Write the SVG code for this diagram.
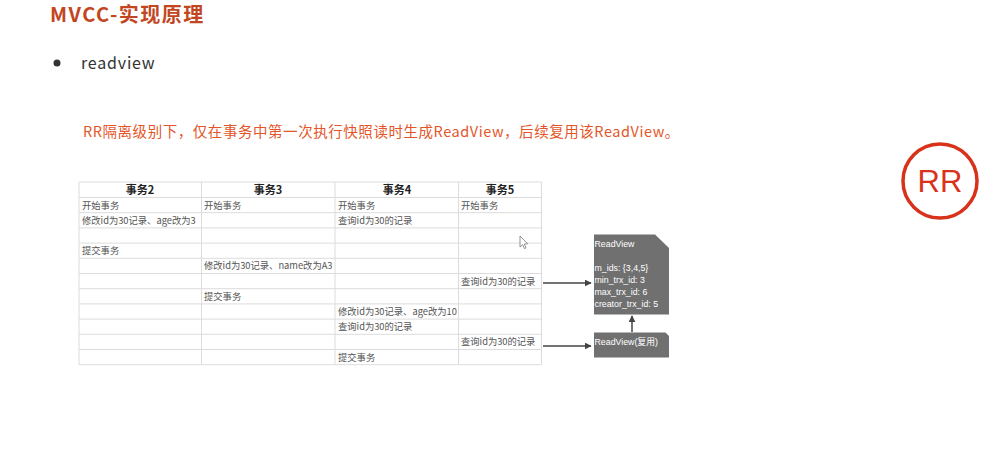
<svg xmlns="http://www.w3.org/2000/svg" width="1006" height="450" viewBox="0 0 1006 450">
  <style>
    .cjk { font-family: "Noto Sans CJK SC", "Noto Sans", sans-serif; }
    .title { font-size: 20px; font-weight: bold; fill: #c2461f; letter-spacing: 1.5px; }
    .bullet-text { font-size: 16px; fill: #333333; letter-spacing: 0.8px; }
    .note { font-size: 14.5px; fill: #e4562a; letter-spacing: 0.55px; }
    .hdr { font-size: 11px; font-weight: bold; fill: #222222; text-anchor: middle; }
    .cell { font-size: 9.3px; fill: #555555; }
    .grid line { stroke: #dcdcdc; stroke-width: 1; }
    .rv { fill: #707070; }
    .rvt { font-family: "Liberation Sans", "Noto Sans CJK SC", sans-serif; font-size: 8.8px; fill: #ffffff; }
    .conn { stroke: #444444; stroke-width: 1.5; fill: none; marker-end: url(#arrow); }
  </style>
  <defs>
    <marker id="arrow" viewBox="0 0 10 10" refX="9" refY="5" markerWidth="7" markerHeight="7" orient="auto" markerUnits="userSpaceOnUse">
      <path d="M0,0 L10,5 L0,10 z" fill="#444444"/>
    </marker>
  </defs>

  <rect width="1006" height="450" fill="#ffffff"/>

  <!-- heading -->
  <text class="cjk title" x="50" y="22">MVCC-实现原理</text>
  <circle cx="57" cy="63" r="3.5" fill="#333333"/>
  <text class="cjk bullet-text" x="81" y="69">readview</text>
  <text class="cjk note" x="83" y="137">RR隔离级别下，仅在事务中第一次执行快照读时生成ReadView，后续复用该ReadView。</text>

  <!-- transaction table -->
  <g id="table">
    <g class="grid">
      <line x1="79" y1="182" x2="541.5" y2="182"/>
      <line x1="79" y1="197.5" x2="541.5" y2="197.5"/>
      <line x1="79" y1="212.7" x2="541.5" y2="212.7"/>
      <line x1="79" y1="227.9" x2="541.5" y2="227.9"/>
      <line x1="79" y1="243.1" x2="541.5" y2="243.1"/>
      <line x1="79" y1="258.3" x2="541.5" y2="258.3"/>
      <line x1="79" y1="273.5" x2="541.5" y2="273.5"/>
      <line x1="79" y1="288.7" x2="541.5" y2="288.7"/>
      <line x1="79" y1="303.9" x2="541.5" y2="303.9"/>
      <line x1="79" y1="319.1" x2="541.5" y2="319.1"/>
      <line x1="79" y1="334.3" x2="541.5" y2="334.3"/>
      <line x1="79" y1="349.5" x2="541.5" y2="349.5"/>
      <line x1="79" y1="364.7" x2="541.5" y2="364.7"/>
      <line x1="79" y1="182" x2="79" y2="364.7"/>
      <line x1="201.5" y1="182" x2="201.5" y2="364.7"/>
      <line x1="335" y1="182" x2="335" y2="364.7"/>
      <line x1="458.5" y1="182" x2="458.5" y2="364.7"/>
      <line x1="541.5" y1="182" x2="541.5" y2="364.7"/>
    </g>
    <text class="cjk hdr" x="140" y="194">事务2</text>
    <text class="cjk hdr" x="268" y="194">事务3</text>
    <text class="cjk hdr" x="397" y="194">事务4</text>
    <text class="cjk hdr" x="500" y="194">事务5</text>

    <text class="cjk cell" x="82" y="208.5">开始事务</text>
    <text class="cjk cell" x="204" y="208.5">开始事务</text>
    <text class="cjk cell" x="338" y="208.5">开始事务</text>
    <text class="cjk cell" x="461" y="208.5">开始事务</text>

    <text class="cjk cell" x="82" y="223.7">修改id为30记录、age改为3</text>
    <text class="cjk cell" x="338" y="223.7">查询id为30的记录</text>

    <text class="cjk cell" x="82" y="254.1">提交事务</text>

    <text class="cjk cell" x="204" y="269.3">修改id为30记录、name改为A3</text>

    <text class="cjk cell" x="461" y="284.5">查询id为30的记录</text>

    <text class="cjk cell" x="204" y="299.7">提交事务</text>

    <text class="cjk cell" x="338" y="314.9">修改id为30记录、age改为10</text>

    <text class="cjk cell" x="338" y="330.1">查询id为30的记录</text>

    <text class="cjk cell" x="461" y="345.3">查询id为30的记录</text>

    <text class="cjk cell" x="338" y="360.5">提交事务</text>

    <!-- mouse pointer -->
    <path d="M520,236 L520,247 L522.6,244.6 L524.4,248.6 L526,247.9 L524.3,244 L527.7,243.8 z" fill="#ffffff" stroke="#777777" stroke-width="0.8"/>
  </g>

  <!-- ReadView generated by the first snapshot read -->
  <g id="readview">
    <path class="rv" d="M594,234.5 L655,234.5 L669,248 L669,314.5 L594,314.5 z"/>
    <text class="rvt" x="594.5" y="247">ReadView</text>
    <text class="rvt" x="594.5" y="271">m_ids: {3,4,5}</text>
    <text class="rvt" x="594.5" y="283">min_trx_id: 3</text>
    <text class="rvt" x="594.5" y="295">max_trx_id: 6</text>
    <text class="rvt" x="594.5" y="307">creator_trx_id: 5</text>
  </g>

  <!-- reused ReadView -->
  <g id="readview-reuse">
    <path class="rv" d="M594,332.5 L665.5,332.5 L669,336 L669,357.5 L594,357.5 z"/>
    <text class="rvt" x="594.5" y="345">ReadView(复用)</text>
  </g>

  <!-- connectors -->
  <g id="connectors">
    <line class="conn" x1="543" y1="283" x2="591" y2="283"/>
    <line class="conn" x1="543" y1="346" x2="591" y2="346"/>
    <line class="conn" x1="632" y1="332" x2="632" y2="316"/>
  </g>

  <!-- isolation level badge -->
  <g id="rr-badge">
    <circle cx="940" cy="181" r="37" fill="none" stroke="#d8321b" stroke-width="3.5"/>
    <text x="940" y="192" font-family="Liberation Sans, Noto Sans, sans-serif" font-size="31" fill="#d8321b" text-anchor="middle">RR</text>
  </g>
</svg>
